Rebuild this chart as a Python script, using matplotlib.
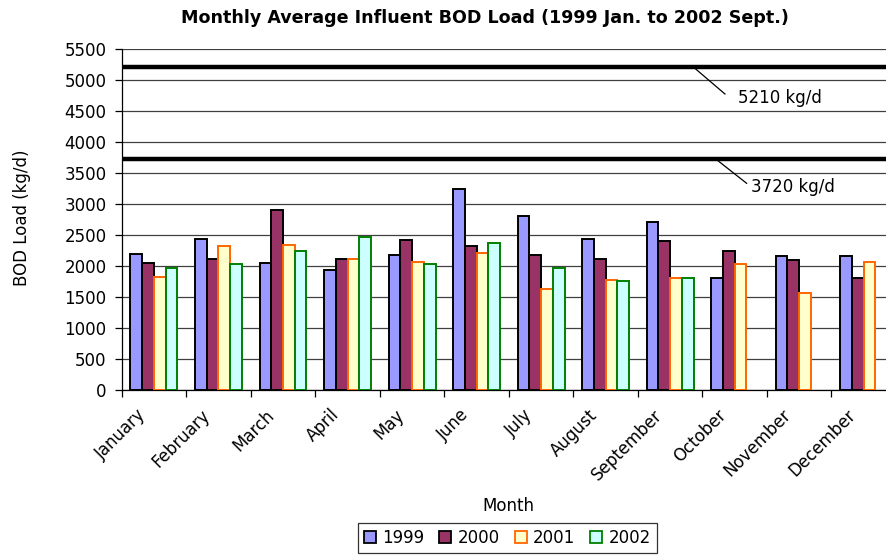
import numpy as np
import matplotlib
matplotlib.use("Agg")
import matplotlib.pyplot as plt
import matplotlib.transforms as mtrans
from matplotlib.patches import Patch

plt.rcParams['font.family'] = ['DejaVu Sans']

months = ["January", "February", "March", "April", "May", "June", "July",
          "August", "September", "October", "November", "December"]
years = ["1999", "2000", "2001", "2002"]
v1999 = [2190, 2440, 2050, 1930, 2180, 3240, 2800, 2440, 2700, 1810, 2160, 2160]
v2000 = [2050, 2110, 2900, 2110, 2420, 2320, 2180, 2110, 2400, 2240, 2090, 1810]
v2001 = [1820, 2320, 2340, 2110, 2060, 2210, 1620, 1770, 1810, 2030, 1570, 2060]
v2002 = [1960, 2030, 2240, 2470, 2030, 2370, 1960, 1750, 1810, np.nan, np.nan, np.nan]
ref_values = [5210, 3720]
ref_labels = ["5210 kg/d", "3720 kg/d"]
y_ticks = list(range(0, 5501, 500))

series = [v1999, v2000, v2001, v2002]
faces = ["#9999FF", "#993366", "#FFFFCC", "#CCFFFF"]
edges = ["#000000", "#000000", "#FF6600", "#008000"]

FS = 12
W, H = 886, 555
fig = plt.figure(figsize=(W / 100, H / 100), dpi=100)
left_px, right_px, top_px, bot_px = 121.7, 896.0, 48.7, 390.0
ax = fig.add_axes([left_px / W, (H - bot_px) / H,
                   (right_px - left_px) / W, (bot_px - top_px) / H])

x = np.arange(len(months))
bw = 0.182
for i, (vals, fc, ec) in enumerate(zip(series, faces, edges)):
    ax.bar(x + (i - 1.5) * bw, vals, width=bw, color=fc, edgecolor=ec,
           linewidth=1.4, zorder=3, label=years[i])

ax.set_xlim(-0.5, len(months) - 0.5)
ax.set_ylim(0, 5500)
ax.set_yticks(y_ticks)
ax.yaxis.grid(True, color="#404040", linewidth=0.9, zorder=0)
ax.set_axisbelow(True)

# category boundaries as major ticks, labels at centres (minor)
ax.set_xticks(np.arange(-0.5, len(months) - 0.4, 1.0))
ax.set_xticklabels([])
ax.set_xticks(x, minor=True)
ax.set_xticklabels(months, minor=True, rotation=45, ha="right", va="center",
                   rotation_mode="anchor", fontsize=FS)
ax.tick_params(axis="x", which="major", direction="out", length=5, width=0.9)
ax.tick_params(axis="x", which="minor", length=0, pad=16)
ax.tick_params(axis="y", direction="out", length=5, width=0.9, pad=6,
               labelsize=FS)
off = mtrans.ScaledTranslation(-11 / 100, 0, fig.dpi_scale_trans)
for lab in ax.get_xticklabels(minor=True):
    lab.set_transform(lab.get_transform() + off)

for s in ["top", "right"]:
    ax.spines[s].set_visible(False)
ax.spines["left"].set_linewidth(0.9)
ax.spines["bottom"].set_linewidth(0.9)

# reference lines
for v in ref_values:
    ax.axhline(v, color="black", linewidth=3.2, zorder=4)

# leader lines and labels
ann = [((8.354, ref_values[0]), (8.849, 4770), (9.05, 4706)),
       ((8.710, ref_values[1]), (9.185, 3331), (9.25, 3279))]
for (p0, p1, pt), lab in zip(ann, ref_labels):
    ax.plot([p0[0], p1[0]], [p0[1], p1[1]], color="black", linewidth=0.9,
            zorder=5, clip_on=False)
    ax.text(pt[0], pt[1], lab, ha="left", va="center", fontsize=FS, zorder=5)

fig.text(22 / W, 1 - 218 / H, "BOD Load (kg/d)", rotation=90,
         ha="center", va="center", fontsize=FS)
fig.text(508 / W, 1 - 506 / H, "Month", ha="center", va="center", fontsize=FS)
fig.text(485 / W, 1 - 18 / H,
         "Monthly Average Influent BOD Load (1999 Jan. to 2002 Sept.)",
         ha="center", va="center", fontsize=12.6, fontweight="bold")

handles = [Patch(facecolor=fc, edgecolor=ec, linewidth=1.3)
           for fc, ec in zip(faces, edges)]
leg = fig.legend(handles, years, loc="upper center", ncol=4,
                 bbox_to_anchor=(507.5 / W, 1 - 523 / H),
                 bbox_transform=fig.transFigure, fontsize=FS,
                 frameon=True, fancybox=False, edgecolor="black",
                 handlelength=0.7, handleheight=0.7, handletextpad=0.4,
                 columnspacing=0.9, borderpad=0.35, borderaxespad=0)
leg.get_frame().set_linewidth(0.9)

fig.savefig("out.png", dpi=100)
